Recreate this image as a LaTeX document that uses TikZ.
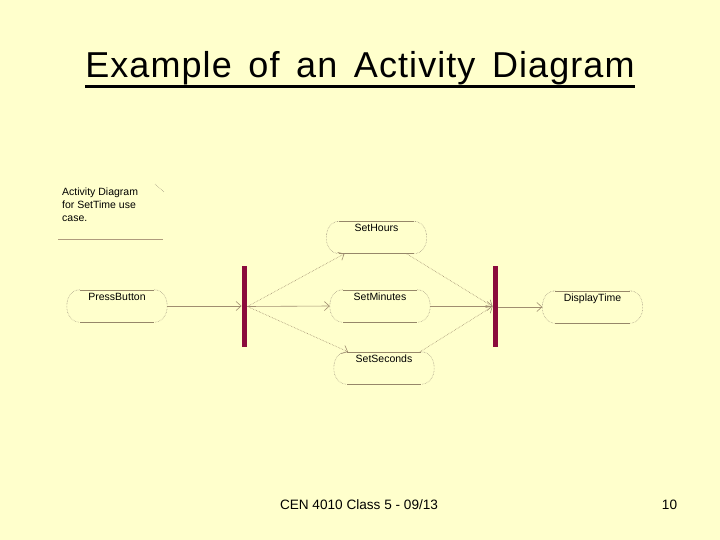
\documentclass[tikz,border=0pt]{standalone}
\usepackage{fontspec}
\setmainfont{Liberation Sans}
\newfontfamily\titlefont[LetterSpace=3,WordSpace=1.5]{Liberation Sans}
\usetikzlibrary{arrows.meta,calc}
\definecolor{bg}{RGB}{255,255,204}
\definecolor{barc}{RGB}{139,12,60}
\definecolor{edgec}{RGB}{160,142,112}
\definecolor{outl}{RGB}{150,135,105}
\definecolor{capc}{RGB}{160,150,128}
\definecolor{notel}{RGB}{175,155,125}
\tikzset{
  act/.style={minimum width=100pt, minimum height=32pt, inner xsep=0pt, inner ysep=0pt,
    text height=8pt, text depth=19pt, font=\fontsize{10.5}{12}\selectfont},
  syncbar/.style={fill=barc, draw=none, minimum width=5.5pt, minimum height=81pt, inner sep=0pt},
  solidedge/.style={draw=edgec, line width=0.6pt, -{Straight Barb[length=5pt,width=9pt]}},
  dotedge/.style={draw=edgec, line width=0.6pt, densely dotted, -{Straight Barb[length=5pt,width=9pt]}},
  topline/.style={draw=outl, line width=0.6pt},
  capline/.style={draw=capc, line width=0.55pt, densely dotted},
}
\newcommand\actoutline[1]{%
  \draw[topline] ($(#1.north west)+(13,0)$) -- ($(#1.north east)+(-13,0)$);
  \draw[topline] ($(#1.south west)+(13,0)$) -- ($(#1.south east)+(-13,0)$);
  \draw[capline] ($(#1.north west)+(13,0)$) .. controls ($(#1.north west)+(5,0)$) and ($(#1.west)+(0,-9)$) .. (#1.west)
     .. controls ($(#1.west)+(0,9)$) and ($(#1.south west)+(5,0)$) .. ($(#1.south west)+(13,0)$);
  \draw[capline] ($(#1.north east)+(-13,0)$) .. controls ($(#1.north east)+(-5,0)$) and ($(#1.east)+(0,-9)$) .. (#1.east)
     .. controls ($(#1.east)+(0,9)$) and ($(#1.south east)+(-5,0)$) .. ($(#1.south east)+(-13,0)$);
}
\begin{document}
\begin{tikzpicture}[x=1pt,y=-1pt]
\fill[bg] (0,0) rectangle (720,540);
\useasboundingbox (0,0) rectangle (720,540);

% title
\node[font=\titlefont\fontsize{36}{40}\selectfont, inner sep=0pt, anchor=base] (title) at (360,78) {Example of an Activity Diagram};
\draw[line width=2.4pt] ([yshift=-8.5pt]title.base west) -- ([yshift=-8.5pt]title.base east);

% note
\node[anchor=north west, align=left, font=\fontsize{10.5}{13.3}\selectfont, inner sep=0pt] (note) at (62,187.5) {Activity Diagram\\for SetTime use\\case.};
\draw[notel, line width=0.8pt] (58,239) -- (163,239);
\draw[capc, densely dotted, line width=0.6pt] (155,184) -- (164,192);

% activities
\node[act] (pb) at (117,306) {PressButton};
\node[act] (sh) at (376.5,237.5) {SetHours};
\node[act] (sm) at (380,306) {SetMinutes};
\node[act] (ss) at (384,368) {SetSeconds};
\node[act] (dt) at (592.5,307) {DisplayTime};
\foreach \n in {pb,sh,sm,ss,dt} {\actoutline{\n}}

% bars
\node[syncbar] (lbar) at (244.5,306.5) {};
\node[syncbar] (rbar) at (495.5,306.5) {};

% connectors
\draw[solidedge] (pb.east) -- (pb.east -| lbar.west);
\draw[dotedge] (lbar.east) -- ([xshift=-32pt]sh.south);
\draw[solidedge] (lbar.east) -- (sm.west);
\draw[dotedge] (lbar.east) -- ([xshift=-36pt]ss.north);
\draw[dotedge] ([xshift=30pt]sh.south) -- (rbar.west);
\draw[solidedge] (sm.east) -- (sm.east -| rbar.west);
\draw[dotedge] ([xshift=36pt]ss.north) -- (rbar.west);
\draw[solidedge] (rbar.east) -- (rbar.east |- dt.west) -- (dt.west);

% footer
\node[font=\fontsize{13.6}{16}\selectfont, inner sep=0pt, anchor=base] (foot) at (359,509) {CEN 4010 Class 5 - 09/13};
\node[font=\fontsize{13.6}{16}\selectfont, inner sep=0pt, anchor=base] (pg) at (669.5,509) {10};
\end{tikzpicture}
\end{document}
